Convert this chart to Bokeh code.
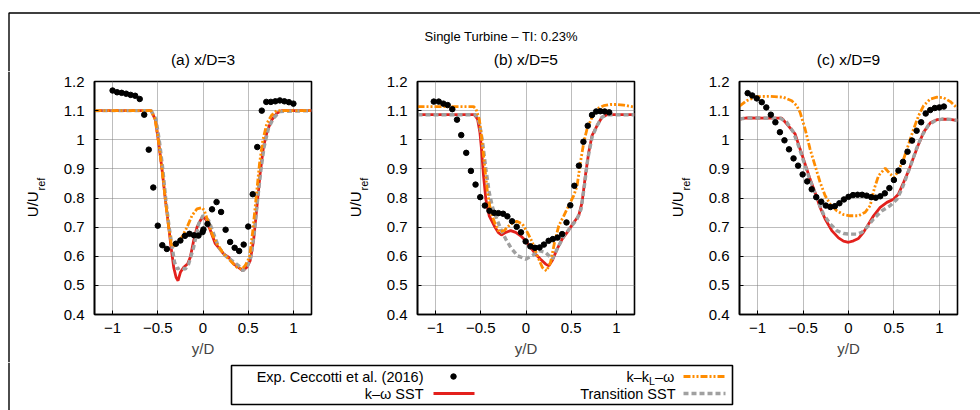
import math
from bokeh.plotting import figure
from bokeh.models import Range1d, FixedTicker, Label
from bokeh.layouts import row, column
from bokeh.embed import file_html
from bokeh.resources import INLINE

# ---------------- data ----------------
x_ticks = [-1, -0.5, 0, 0.5, 1]
x_tick_labels = ["\u22121", "\u22120.5", "0", "0.5", "1"]
y_ticks = [0.4, 0.5, 0.6, 0.7, 0.8, 0.9, 1.0, 1.1, 1.2]
y_tick_labels = ["0.4", "0.5", "0.6", "0.7", "0.8", "0.9", "1", "1.1", "1.2"]

main_title = "Single Turbine \u2013 TI: 0.23%"
panel_titles = ["(a) x/D=3", "(b) x/D=5", "(c) x/D=9"]

# (a) x/D = 3
a_exp_x = [-1.0, -0.95, -0.9, -0.85, -0.8, -0.75, -0.7, -0.65, -0.6, -0.55, -0.5, -0.45, -0.4,
           -0.3, -0.25, -0.2, -0.15, -0.1, -0.05, -0.005, 0.005, 0.05, 0.1, 0.15, 0.2, 0.25, 0.3,
           0.35, 0.4, 0.45, 0.5, 0.55, 0.6, 0.65, 0.7, 0.75, 0.8, 0.85, 0.9, 0.95, 1.0]
a_exp_y = [1.169, 1.163, 1.161, 1.158, 1.154, 1.151, 1.140, 1.086, 0.966, 0.836, 0.705, 0.638, 0.625,
           0.643, 0.654, 0.670, 0.677, 0.672, 0.671, 0.683, 0.692, 0.711, 0.761, 0.786, 0.752, 0.691,
           0.649, 0.629, 0.618, 0.640, 0.702, 0.813, 0.975, 1.100, 1.130, 1.130, 1.132, 1.135, 1.132,
           1.129, 1.124]
a_sst_x = [-1.2, -0.574, -0.526, -0.489, -0.452, -0.415, -0.379, -0.353, -0.324, -0.298, -0.276, -0.25,
           -0.213, -0.169, -0.14, -0.103, -0.066, -0.029, 0.0, 0.037, 0.081, 0.136, 0.184, 0.228, 0.283,
           0.338, 0.393, 0.441, 0.485, 0.522, 0.559, 0.596, 0.632, 0.669, 0.713, 0.761, 0.816, 0.871, 1.2]
a_sst_y = [1.1, 1.1, 1.068, 0.987, 0.895, 0.792, 0.70, 0.631, 0.562, 0.528, 0.516, 0.545, 0.562, 0.574,
           0.597, 0.654, 0.70, 0.723, 0.735, 0.725, 0.689, 0.643, 0.625, 0.608, 0.597, 0.574, 0.562, 0.55,
           0.562, 0.585, 0.654, 0.769, 0.884, 0.976, 1.033, 1.068, 1.091, 1.1, 1.1]
a_tr_x = [-1.2, -0.574, -0.52, -0.48, -0.445, -0.41, -0.375, -0.345, -0.315, -0.287, -0.25, -0.195,
          -0.158, -0.103, -0.048, 0.0, 0.0625, 0.118, 0.173, 0.246, 0.32, 0.393, 0.441, 0.493, 0.53,
          0.566, 0.603, 0.64, 0.676, 0.724, 0.779, 0.853, 1.2]
a_tr_y = [1.1, 1.1, 1.07, 0.99, 0.9, 0.79, 0.70, 0.64, 0.58, 0.556, 0.562, 0.556, 0.574, 0.631, 0.711,
          0.74, 0.723, 0.677, 0.631, 0.602, 0.585, 0.568, 0.55, 0.568, 0.597, 0.677, 0.792, 0.895, 0.976,
          1.039, 1.074, 1.097, 1.1]
a_kkl_x = [-1.2, -0.574, -0.53, -0.49, -0.45, -0.415, -0.38, -0.35, -0.33, -0.287, -0.232, -0.176,
           -0.121, -0.066, -0.011, 0.015, 0.051, 0.099, 0.154, 0.228, 0.301, 0.375, 0.43, 0.467, 0.515,
           0.551, 0.588, 0.625, 0.662, 0.706, 0.761, 0.816, 1.2]
a_kkl_y = [1.1, 1.1, 1.07, 0.99, 0.89, 0.79, 0.70, 0.64, 0.632, 0.648, 0.666, 0.70, 0.74, 0.763, 0.767,
           0.757, 0.723, 0.677, 0.643, 0.608, 0.585, 0.562, 0.556, 0.568, 0.597, 0.688, 0.803, 0.918,
           0.999, 1.056, 1.085, 1.1, 1.1]

# (b) x/D = 5
b_exp_x = [-1.02, -0.965, -0.914, -0.866, -0.815, -0.763, -0.716, -0.661, -0.609, -0.558, -0.506,
           -0.455, -0.404, -0.352, -0.305, -0.253, -0.206, -0.154, -0.103, -0.055, -0.004, 0.048,
           0.099, 0.150, 0.198, 0.250, 0.297, 0.349, 0.400, 0.448, 0.49, 0.535, 0.585, 0.635, 0.683,
           0.73, 0.776, 0.822, 0.87, 0.92]
b_exp_y = [1.131, 1.131, 1.124, 1.119, 1.105, 1.069, 1.016, 0.955, 0.893, 0.846, 0.803, 0.774, 0.756,
           0.749, 0.748, 0.746, 0.737, 0.720, 0.701, 0.682, 0.651, 0.634, 0.629, 0.630, 0.640, 0.653,
           0.659, 0.664, 0.676, 0.716, 0.775, 0.842, 0.911, 0.993, 1.048, 1.085, 1.097, 1.098, 1.097,
           1.094]
b_sst_x = [-1.2, -0.57, -0.536, -0.51, -0.492, -0.47, -0.444, -0.407, -0.352, -0.308, -0.272, -0.224,
           -0.169, -0.114, -0.059, -0.004, 0.051, 0.106, 0.161, 0.217, 0.253, 0.29, 0.345, 0.4, 0.455,
           0.528, 0.583, 0.62, 0.657, 0.694, 0.73, 0.785, 0.84, 0.895, 1.2]
b_sst_y = [1.086, 1.086, 1.071, 1.026, 0.968, 0.877, 0.796, 0.739, 0.705, 0.682, 0.673, 0.682, 0.688,
           0.682, 0.670, 0.653, 0.630, 0.607, 0.590, 0.573, 0.567, 0.585, 0.625, 0.659, 0.682, 0.716,
           0.739, 0.785, 0.877, 0.957, 1.014, 1.048, 1.077, 1.086, 1.086]
b_tr_x = [-1.2, -0.554, -0.517, -0.48, -0.444, -0.407, -0.37, -0.323, -0.272, -0.224, -0.169, -0.095,
          -0.004, 0.07, 0.143, 0.217, 0.29, 0.363, 0.418, 0.492, 0.565, 0.609, 0.646, 0.683, 0.73,
          0.785, 0.84, 0.902, 1.2]
b_tr_y = [1.086, 1.086, 1.06, 0.991, 0.9, 0.819, 0.768, 0.728, 0.688, 0.659, 0.630, 0.602, 0.590,
          0.602, 0.619, 0.613, 0.590, 0.636, 0.670, 0.699, 0.728, 0.762, 0.842, 0.934, 1.008, 1.048,
          1.077, 1.086, 1.086]
b_kkl_x = [-1.2, -0.58, -0.554, -0.517, -0.492, -0.462, -0.426, -0.389, -0.334, -0.297, -0.242,
           -0.169, -0.103, -0.04, 0.015, 0.07, 0.125, 0.18, 0.228, 0.272, 0.316, 0.363, 0.418, 0.473,
           0.528, 0.565, 0.602, 0.639, 0.675, 0.73, 0.785, 0.859, 0.932, 1.005, 1.079, 1.2]
b_kkl_y = [1.114, 1.114, 1.106, 1.071, 1.014, 0.922, 0.819, 0.751, 0.705, 0.684, 0.688, 0.711, 0.720,
           0.711, 0.682, 0.648, 0.602, 0.562, 0.550, 0.579, 0.648, 0.705, 0.739, 0.774, 0.808, 0.842,
           0.922, 0.991, 1.037, 1.077, 1.106, 1.117, 1.121, 1.121, 1.119, 1.112]

# (c) x/D = 9
c_exp_x = [-1.11, -1.06, -1.01, -0.955, -0.905, -0.855, -0.805, -0.755, -0.705, -0.655, -0.605,
           -0.555, -0.505, -0.455, -0.405, -0.355, -0.30, -0.25, -0.20, -0.15, -0.10, -0.05, 0.0,
           0.05, 0.10, 0.15, 0.20, 0.25, 0.30, 0.35, 0.40, 0.45, 0.50, 0.55, 0.60, 0.65, 0.70, 0.75,
           0.80, 0.85, 0.90, 0.95, 1.0, 1.05]
c_exp_y = [1.160, 1.152, 1.142, 1.129, 1.111, 1.086, 1.060, 1.026, 0.998, 0.967, 0.936, 0.911, 0.881,
           0.857, 0.830, 0.803, 0.787, 0.774, 0.769, 0.772, 0.782, 0.795, 0.804, 0.810, 0.811, 0.811,
           0.808, 0.803, 0.801, 0.806, 0.816, 0.834, 0.862, 0.894, 0.924, 0.959, 0.997, 1.031, 1.060,
           1.090, 1.102, 1.109, 1.111, 1.114]
c_sst_x = [-1.2, -1.12, -0.735, -0.662, -0.588, -0.533, -0.478, -0.423, -0.368, -0.313, -0.257,
           -0.184, -0.11, -0.055, 0.0, 0.055, 0.11, 0.165, 0.221, 0.276, 0.349, 0.423, 0.496, 0.551,
           0.607, 0.662, 0.717, 0.772, 0.827, 0.901, 0.974, 1.048, 1.121, 1.2]
c_sst_y = [1.071, 1.075, 1.074, 1.048, 1.02, 0.968, 0.917, 0.865, 0.819, 0.768, 0.728, 0.688, 0.663,
           0.652, 0.648, 0.653, 0.661, 0.682, 0.711, 0.739, 0.768, 0.785, 0.796, 0.814, 0.854, 0.894,
           0.940, 0.985, 1.026, 1.058, 1.069, 1.071, 1.070, 1.066]
c_tr_x = [-1.2, -1.12, -0.75, -0.68, -0.607, -0.551, -0.496, -0.441, -0.386, -0.331, -0.276, -0.202,
          -0.129, -0.055, 0.018, 0.092, 0.147, 0.202, 0.276, 0.368, 0.46, 0.533, 0.588, 0.643, 0.699,
          0.754, 0.809, 0.882, 0.956, 1.029, 1.121, 1.2]
c_tr_y = [1.071, 1.075, 1.074, 1.06, 1.026, 0.98, 0.928, 0.877, 0.831, 0.785, 0.745, 0.711, 0.688,
          0.678, 0.676, 0.676, 0.682, 0.699, 0.728, 0.756, 0.774, 0.796, 0.831, 0.877, 0.925, 0.974,
          1.014, 1.051, 1.066, 1.071, 1.070, 1.066]
c_kkl_x = [-1.2, -1.121, -1.011, -0.864, -0.717, -0.625, -0.57, -0.533, -0.478, -0.423, -0.368,
           -0.313, -0.257, -0.202, -0.129, -0.055, 0.018, 0.11, 0.184, 0.239, 0.283, 0.331, 0.404,
           0.46, 0.504, 0.551, 0.607, 0.662, 0.717, 0.772, 0.827, 0.901, 0.974, 1.048, 1.121, 1.2]
c_kkl_y = [1.115, 1.134, 1.148, 1.149, 1.146, 1.134, 1.117, 1.094, 1.037, 0.968, 0.911, 0.854, 0.808,
           0.779, 0.756, 0.743, 0.739, 0.739, 0.751, 0.774, 0.831, 0.877, 0.902, 0.882, 0.871, 0.894,
           0.934, 0.985, 1.037, 1.083, 1.117, 1.14, 1.146, 1.144, 1.131, 1.108]

legend_labels = ["Exp. Ceccotti et al. (2016)", "k\u2013\u03c9 SST", "Transition SST"]

# ---------------- styling / layout ----------------
FONT = "Liberation Sans"
RED = "#e3201c"
ORANGE = "#ff8c00"
GRAY = "#a0a0a0"
KKL_DASH = "7 2 2 2 2 2"
TR_DASH = "5 3"
TOTAL_W = 980
HDR_H = 71
ROW_H = 291
LEG_H = 48
BX = 8.5  # outer frame line position


def blank(w, h):
    f = figure(width=w, height=h, x_range=Range1d(0, w), y_range=Range1d(0, h),
               output_backend="svg", toolbar_location=None,
               x_axis_location=None, y_axis_location=None, frame_align=False,
               min_border_left=0, min_border_right=0, min_border_top=0, min_border_bottom=0)
    f.grid.visible = False
    f.outline_line_color = None
    f.background_fill_color = "white"
    f.border_fill_color = "white"
    return f


def txt(f, x, y, t, size, align="center", angle=0.0):
    f.add_layout(Label(x=x, y=y, text=t, text_align=align, text_baseline="middle", angle=angle,
                       text_font=FONT, text_font_size=size, text_color="black"))


def make_panel(ex, ey, kx, ky, sx, sy, tx, ty, fig_w, b_left, b_right):
    p = figure(width=fig_w, height=ROW_H, x_range=Range1d(-1.2, 1.2), y_range=Range1d(0.4, 1.2),
               output_backend="svg", toolbar_location=None,
               min_border_left=b_left, min_border_right=b_right,
               min_border_top=10, min_border_bottom=48)
    p.background_fill_color = "white"
    p.border_fill_color = "white"
    p.outline_line_color = "black"
    p.outline_line_width = 1.6

    for ax, ticks, labels in ((p.xaxis[0], x_ticks, x_tick_labels), (p.yaxis[0], y_ticks, y_tick_labels)):
        ax.ticker = FixedTicker(ticks=ticks)
        ov = {}
        for t, l in zip(ticks, labels):
            ov[t] = l
            ov[str(t)] = l
        ax.major_label_overrides = ov
        ax.major_label_text_font = FONT
        ax.major_label_text_font_size = "15px"
        ax.major_label_text_color = "black"
        ax.major_tick_in = 4
        ax.major_tick_out = 0
        ax.minor_tick_in = 0
        ax.minor_tick_out = 0
        ax.axis_line_color = "black"
        ax.axis_line_width = 1.6
        ax.major_tick_line_color = "black"
    p.xaxis[0].major_label_standoff = 8
    p.yaxis[0].major_label_standoff = 10
    p.xaxis[0].axis_label = "y/D"
    p.xaxis[0].axis_label_text_font = FONT
    p.xaxis[0].axis_label_text_font_size = "15px"
    p.xaxis[0].axis_label_text_font_style = "normal"
    p.xaxis[0].axis_label_standoff = 4

    for g in (p.xgrid[0], p.ygrid[0]):
        g.grid_line_color = "#7a7a7a"
        g.grid_line_dash = "1 1"
        g.grid_line_width = 1
    p.xgrid[0].ticker = FixedTicker(ticks=x_ticks)
    p.ygrid[0].ticker = FixedTicker(ticks=y_ticks)

    p.line(sx, sy, line_color=RED, line_width=2.8)
    p.line(tx, ty, line_color=GRAY, line_width=3.4, line_dash=TR_DASH)
    p.line(kx, ky, line_color=ORANGE, line_width=2.8, line_dash=KKL_DASH)
    p.scatter(ex, ey, size=5.5, fill_color="black", line_color="black")
    return p


def make_ylabel(w, ux, border=False):
    f = blank(w, ROW_H)
    if border:
        f.line([BX, BX], [0, ROW_H], line_color="black", line_width=1.4)
    txt(f, ux, 145.3, "U/U", "15px", align="left", angle=math.pi / 2)
    txt(f, ux + 8.5, 172, "ref", "11px", align="left", angle=math.pi / 2)
    return f


# header (titles + outer frame)
hdr = blank(TOTAL_W, HDR_H)
hdr.line([BX, BX, TOTAL_W], [0, 58.5, 58.5], line_color="black", line_width=1.4)
txt(hdr, 500.8, 35, main_title, "13px")
txt(hdr, 202.5, 12, panel_titles[0], "15.5px")
txt(hdr, 525.4, 12, panel_titles[1], "15.5px")
txt(hdr, 847.9, 12, panel_titles[2], "15.5px")

yl_a = make_ylabel(56, 32, border=True)
pa = make_panel(a_exp_x, a_exp_y, a_kkl_x, a_kkl_y, a_sst_x, a_sst_y, a_tr_x, a_tr_y, 265, 38, 10)
yl_b = make_ylabel(58, 34)
pb = make_panel(b_exp_x, b_exp_y, b_kkl_x, b_kkl_y, b_sst_x, b_sst_y, b_tr_x, b_tr_y, 265, 38, 10)
yl_c = make_ylabel(57, 33)
pc = make_panel(c_exp_x, c_exp_y, c_kkl_x, c_kkl_y, c_sst_x, c_sst_y, c_tr_x, c_tr_y, 279, 38, 23)

# legend
leg = blank(TOTAL_W, LEG_H)
leg.line([BX, BX], [0, LEG_H], line_color="black", line_width=1.4)
leg.quad(left=[231], right=[732], bottom=[6], top=[45], fill_color=None,
         line_color="black", line_width=1.6)
r1, r2 = 34, 17
txt(leg, 423, r1, legend_labels[0], "14.5px", align="right")
leg.scatter([453], [r1], size=5.5, fill_color="black", line_color="black")
txt(leg, 423, r2, legend_labels[1], "14.5px", align="right")
leg.line([433, 474], [r2, r2], line_color=RED, line_width=2.8)
txt(leg, 626, r1, "k\u2013k", "14.5px", align="left")
txt(leg, 648.5, r1 - 4, "L", "10.5px", align="left")
txt(leg, 654.5, r1, "\u2013\u03c9", "14.5px", align="left")
leg.line([683, 725], [r1, r1], line_color=ORANGE, line_width=2.8, line_dash=KKL_DASH)
txt(leg, 675, r2, legend_labels[2], "14.5px", align="right")
leg.line([683, 725], [r2, r2], line_color=GRAY, line_width=3.4, line_dash=TR_DASH)

layout = column(hdr, row(yl_a, pa, yl_b, pb, yl_c, pc), leg)

open("out.html", "w").write(file_html(layout, INLINE, title="Single Turbine"))
